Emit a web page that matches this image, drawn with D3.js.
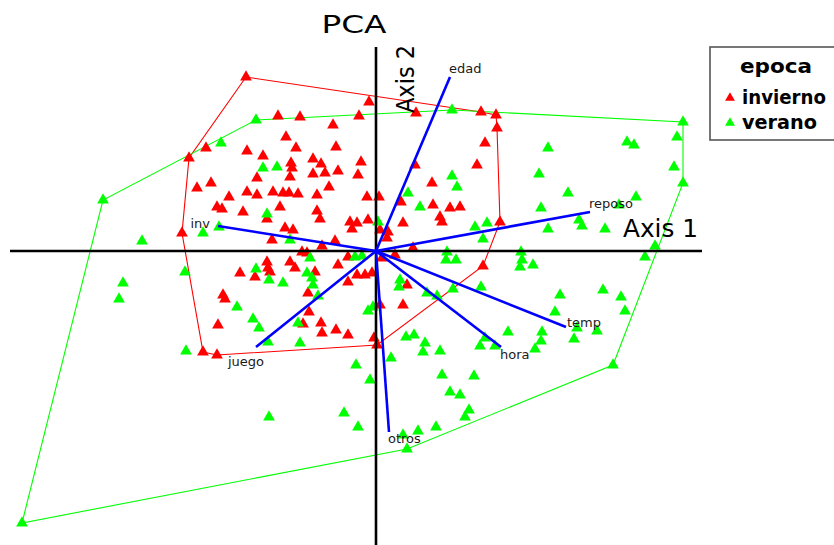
<!DOCTYPE html>
<html>
<head>
<meta charset="utf-8">
<script src="https://cdn.jsdelivr.net/npm/d3@7/dist/d3.min.js"></script>
<style>
  body { margin: 0; background: #fff; }
  svg { display: block; font-family: "DejaVu Sans", sans-serif; }
</style>
</head>
<body>
<div id="chart"></div>
<script>
// PCA scores per observation [axis 1, axis 2], split by epoca
const invierno = [
  [-13.0, 17.4], [-0.7, 14.9], [4.0, 13.8], [10.5, 13.9], [12.0, 13.6], [12.1, 12.3],
  [-9.8, 13.5], [-7.6, 13.4], [-1.7, 13.5], [-4.3, 12.6], [10.9, 10.8], [-9.0, 11.4],
  [-8.0, 10.3], [-4.0, 10.4], [-17.0, 10.3], [-12.9, 10.0], [-11.3, 9.5], [-18.7, 9.3],
  [-6.3, 9.2], [-5.5, 8.7], [-1.5, 8.9], [-8.5, 8.8], [-8.4, 8.3], [-5.1, 7.8],
  [-6.3, 7.7], [-3.8, 8.0], [-1.8, 7.6], [-11.9, 7.3], [-8.6, 7.4], [10.1, 8.6],
  [3.9, 8.6], [5.6, 6.8], [-17.9, 6.3], [-16.5, 6.8], [-4.7, 6.4], [-12.9, 5.9],
  [-11.9, 5.6], [-10.3, 5.9], [-9.3, 5.8], [-8.7, 5.8], [-7.8, 5.7], [-5.9, 5.6],
  [-14.7, 5.4], [-0.9, 5.4], [0.3, 5.4], [2.5, 4.9], [5.7, 4.6], [7.4, 4.3],
  [8.4, 4.4], [6.4, 3.4], [6.6, 2.9], [2.7, 2.8], [-15.9, 4.4], [-15.4, 4.2],
  [-13.3, 3.9], [-9.6, 4.4], [-5.9, 4.0], [-5.6, 3.2], [-10.9, 3.2], [-19.4, 1.8],
  [-10.4, 1.1], [-9.1, 2.3], [-8.3, 2.1], [-2.6, 2.9], [-2.4, 2.2], [-1.9, 2.8],
  [-0.8, 3.1], [0.4, 2.1], [1.2, 1.9], [1.1, 1.3], [12.4, 2.9], [-4.1, 1.0],
  [-5.4, 0.5], [3.7, 0.3], [-7.4, -0.1], [-6.9, -0.2], [-2.8, -0.6], [-3.8, -1.4],
  [1.9, -0.4], [0.6, -0.7], [10.7, -1.5], [-10.9, -1.1], [-10.8, -1.7], [-12.1, -2.6],
  [-13.6, -2.2], [-8.6, -1.1], [-8.1, -1.7], [-6.1, -2.1], [-1.9, -2.4], [-1.1, -2.4],
  [-0.4, -2.2], [-2.8, -3.1], [3.1, -3.4], [-15.3, -4.4], [-15.1, -4.8], [-6.8, -4.2],
  [-15.8, -7.4], [-17.3, -10.1], [-15.9, -10.4], [-6.7, -6.1], [-7.3, -7.3], [-5.5, -7.2],
  [-5.4, -8.2], [-4.0, -7.9], [-2.8, -8.4], [-0.2, -8.7], [0.1, -9.4], [2.7, -5.4],
  [0.4, -5.4], [-10.6, -2.1]
];

const verano = [
  [-27.3, 5.1], [-35.4, -27.2], [-12.0, 13.1], [-15.5, 10.8], [-11.3, 8.3], [-9.9, 8.4],
  [-23.4, 1.0], [-17.3, 1.8], [-15.7, 2.4], [-10.9, 3.7], [-8.6, 1.1], [0.2, 2.9],
  [3.2, 5.8], [4.4, 4.4], [7.6, 14.1], [30.7, 12.9], [30.1, 11.4], [25.1, 10.9],
  [25.8, 10.6], [17.2, 10.3], [7.6, 7.5], [8.1, 6.4], [16.3, 7.7], [29.8, 8.4],
  [30.7, 6.8], [19.2, 5.8], [26.0, 5.4], [16.5, 4.3], [24.3, 4.6], [20.3, 3.1],
  [20.6, 2.5], [22.9, 2.2], [17.2, 2.2], [9.9, 2.4], [11.1, 2.8], [10.7, 1.2],
  [27.9, 0.5], [26.9, -0.6], [7.1, -0.1], [7.0, -0.9], [8.0, -0.9], [14.5, -0.1],
  [14.6, -0.9], [14.4, -1.6], [15.7, -1.4], [22.7, -3.9], [24.5, -4.6], [24.9, -6.0],
  [18.4, -4.4], [17.9, -6.1], [10.5, -3.6], [7.7, -3.8], [5.1, -4.2], [6.1, -4.5],
  [2.4, -2.9], [2.3, -3.6], [3.8, -8.4], [3.0, -8.6], [4.9, -9.2], [4.7, -10.1],
  [6.4, -10.0], [1.5, -10.7], [13.2, -8.1], [16.6, -8.1], [16.5, -9.0], [15.9, -9.8],
  [20.1, -7.7], [19.8, -8.8], [22.1, -8.0], [10.9, -8.7], [10.4, -9.5], [11.9, -9.5],
  [6.6, -12.4], [9.8, -12.5], [7.4, -14.1], [8.4, -14.4], [9.3, -15.9], [8.9, -16.6],
  [23.7, -11.4], [2.7, -18.4], [4.2, -18.0], [6.0, -17.6], [3.1, -19.8], [-25.3, -3.2],
  [-25.7, -4.8], [-19.1, -2.1], [-19.0, -10.0], [-13.9, -5.6], [-12.3, -6.8], [-11.7, -7.7],
  [-10.8, -9.1], [-7.6, -9.2], [-7.8, -7.2], [-2.0, -11.4], [-0.6, -12.9], [-10.7, -16.6],
  [-3.2, -16.2], [-1.8, -17.6], [-0.8, -6.0], [-0.3, -5.6], [-12.0, -1.8], [-10.7, -2.9],
  [-9.3, -3.2], [-6.9, -2.2], [-6.4, -2.7], [-6.3, -3.4], [-5.8, -4.5], [-6.6, -0.7],
  [-2.1, -0.6], [-1.4, -0.5]
];

// variable loadings (arrows)
const varNames = ['edad', 'reposo', 'inv', 'juego', 'temp', 'hora', 'otros'];
const varAxis1 = [7.4, 21.4, -15.8, -12.0, 19.0, 12.5, 1.3];
const varAxis2 = [17.4, 3.9, 2.5, -9.6, -7.6, -9.6, -18.1];

const groupNames = ['invierno', 'verano'];
const groupColors = ['#ff0000', '#00ff00'];

const width = 834, height = 545;

const svg = d3.select('#chart')
  .append('svg')
  .attr('width', width)
  .attr('height', height);

svg.append('rect').attr('width', width).attr('height', height).attr('fill', '#fff');

svg.append('defs').append('clipPath')
  .attr('id', 'plot-clip')
  .append('rect')
  .attr('x', 0).attr('y', 45)
  .attr('width', 706).attr('height', height - 45);

const x = d3.scaleLinear().domain([-36.6, 32.6]).range([10, 702]);
const y = d3.scaleLinear().domain([20.4, -29.4]).range([47, 545]);

const plot = svg.append('g').attr('clip-path', 'url(#plot-clip)');

// convex hulls per group
[invierno, verano].forEach((pts, i) => {
  const hull = d3.polygonHull(pts.map(d => [x(d[0]), y(d[1])]));
  plot.append('path')
    .attr('d', 'M' + hull.join('L') + 'Z')
    .attr('fill', 'none')
    .attr('stroke', groupColors[i])
    .attr('stroke-width', 1.1);
});

// points
const tri = d3.symbol().type(d3.symbolTriangle).size(60);
[invierno, verano].forEach((pts, i) => {
  plot.append('g')
    .selectAll('path')
    .data(pts)
    .enter().append('path')
    .attr('d', tri)
    .attr('transform', d => `translate(${x(d[0])},${y(d[1])})`)
    .attr('fill', groupColors[i]);
});

// axes through the origin
plot.append('line')
  .attr('x1', x.range()[0]).attr('x2', x.range()[1])
  .attr('y1', y(0)).attr('y2', y(0))
  .attr('stroke', '#000').attr('stroke-width', 2.6);
plot.append('line')
  .attr('x1', x(0)).attr('x2', x(0))
  .attr('y1', y.range()[0]).attr('y2', y.range()[1])
  .attr('stroke', '#000').attr('stroke-width', 2.6);

// loading arrows
const vars = varNames.map((n, i) => ({ name: n, a1: varAxis1[i], a2: varAxis2[i] }));
plot.append('g')
  .selectAll('line')
  .data(vars)
  .enter().append('line')
  .attr('x1', x(0)).attr('y1', y(0))
  .attr('x2', d => x(d.a1)).attr('y2', d => y(d.a2))
  .attr('stroke', '#0000ff')
  .attr('stroke-width', 2.6);

// label placement around arrow tips
const labelPos = {
  edad:   { dx: -1,  dy: -4, anchor: 'start' },
  reposo: { dx: -1,  dy: -4, anchor: 'start' },
  inv:    { dx: -8,  dy: 2,  anchor: 'end' },
  juego:  { dx: -10, dy: 19, anchor: 'middle' },
  temp:   { dx: 1,   dy: 0,  anchor: 'start' },
  hora:   { dx: -1,  dy: 12, anchor: 'start' },
  otros:  { dx: -1,  dy: 11, anchor: 'start' }
};
plot.append('g')
  .selectAll('text')
  .data(vars)
  .enter().append('text')
  .attr('x', d => x(d.a1) + labelPos[d.name].dx)
  .attr('y', d => y(d.a2) + labelPos[d.name].dy)
  .attr('text-anchor', d => labelPos[d.name].anchor)
  .attr('font-size', 13)
  .attr('fill', '#1a1a1a')
  .text(d => d.name);

// axis titles
plot.append('text')
  .attr('x', 623).attr('y', 237)
  .attr('font-size', 24)
  .attr('textLength', 75)
  .attr('lengthAdjust', 'spacingAndGlyphs')
  .text('Axis 1');
plot.append('text')
  .attr('transform', 'translate(414,113) rotate(-90)')
  .attr('font-size', 24)
  .attr('textLength', 68)
  .attr('lengthAdjust', 'spacingAndGlyphs')
  .text('Axis 2');

// title
svg.append('text')
  .attr('x', 354).attr('y', 33)
  .attr('text-anchor', 'middle')
  .attr('font-size', 24)
  .attr('textLength', 65)
  .attr('lengthAdjust', 'spacingAndGlyphs')
  .text('PCA');

// legend
const legend = svg.append('g');
legend.append('rect')
  .attr('x', 710).attr('y', 47)
  .attr('width', 140).attr('height', 93)
  .attr('fill', '#fff')
  .attr('stroke', '#555')
  .attr('stroke-width', 1.6);
legend.append('text')
  .attr('x', 776).attr('y', 73)
  .attr('text-anchor', 'middle')
  .attr('font-size', 20)
  .attr('font-weight', 'bold')
  .attr('textLength', 72)
  .attr('lengthAdjust', 'spacingAndGlyphs')
  .text('epoca');
const legTri = d3.symbol().type(d3.symbolTriangle).size(42);
const legLen = [84, 75];
groupNames.forEach((g, i) => {
  legend.append('path')
    .attr('d', legTri)
    .attr('transform', `translate(730,${98 + i * 25})`)
    .attr('fill', groupColors[i]);
  legend.append('text')
    .attr('x', 742).attr('y', 104 + i * 25)
    .attr('font-size', 19)
    .attr('font-weight', 'bold')
    .attr('textLength', legLen[i])
    .attr('lengthAdjust', 'spacingAndGlyphs')
    .text(g);
});
</script>
</body>
</html>
